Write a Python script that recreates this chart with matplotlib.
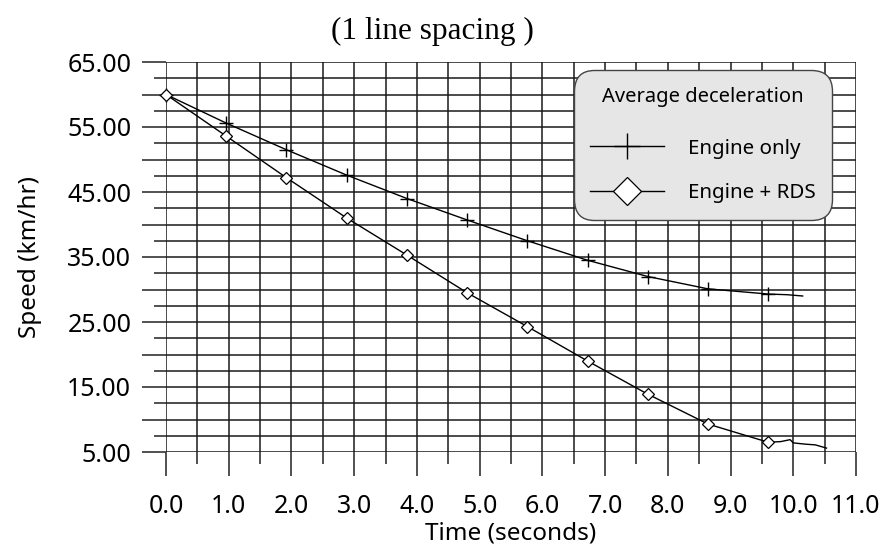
import matplotlib
matplotlib.use("Agg")
import matplotlib.pyplot as plt
from matplotlib.ticker import FixedLocator, FuncFormatter
import numpy as np

# %% data
t_engine = [0.0, 0.96, 1.92, 2.88, 3.84, 4.80, 5.76, 6.72, 7.68, 8.64, 9.60, 9.90, 10.15]
v_engine = [60.0, 55.6, 51.5, 47.6, 44.0, 40.7, 37.5, 34.5, 32.0, 30.1, 29.3, 29.2, 29.0]

t_rds = [0.0, 0.96, 1.92, 2.88, 3.84, 4.80, 5.76, 6.72, 7.68, 8.64, 9.60, 9.80, 9.95, 10.0, 10.2, 10.35, 10.53]
v_rds = [60.0, 53.6, 47.2, 41.0, 35.3, 29.5, 24.3, 19.0, 13.9, 9.3, 6.5, 6.6, 6.9, 6.4, 6.2, 6.1, 5.6]

n_marks = 11  # markers on the first 11 samples
x_ticks = np.arange(0, 11.5, 1.0)
y_labels = [5, 15, 25, 35, 45, 55, 65]

plt.rcParams["font.family"] = ["Noto Sans", "DejaVu Sans"]

fig = plt.figure(figsize=(8.82, 5.49), dpi=100)
ax = fig.add_axes([166 / 882, 1 - 452 / 549, 690 / 882, 390 / 549])

ax.plot(t_engine, v_engine, color="black", lw=1.0, marker="+", markersize=10,
        markeredgewidth=1.0, markevery=list(range(n_marks)), label="Engine only",
        clip_on=False)
ax.plot(t_rds, v_rds, color="black", lw=1.0, marker="D", markersize=6.5,
        markerfacecolor="white", markeredgewidth=0.9, markevery=list(range(n_marks)),
        label="Engine + RDS", clip_on=False)

ax.set_xlim(0, 11)
ax.set_ylim(5, 65)
for s in ax.spines.values():
    s.set_visible(False)

ax.xaxis.set_major_locator(FixedLocator(x_ticks))
ax.xaxis.set_minor_locator(FixedLocator(np.arange(0.5, 11, 1.0)))
ax.xaxis.set_major_formatter(FuncFormatter(lambda v, p: f"{v:.1f}"))
ax.yaxis.set_major_locator(FixedLocator(np.arange(5, 66, 5)))
ax.yaxis.set_minor_locator(FixedLocator(np.arange(7.5, 65, 5)))
ax.yaxis.set_major_formatter(FuncFormatter(
    lambda v, p: f"{v:.2f}" if int(round(v)) in y_labels else ""))

ax.tick_params(which="major", length=17, width=1.2, color="#333333",
               labelsize=18)
ax.tick_params(axis="x", which="major", pad=13)
ax.tick_params(axis="y", which="major", pad=8)
ax.tick_params(which="minor", length=8.5, width=1.2, color="#333333")
ax.grid(True, which="both", color="#1a1a1a", lw=1.1)
ax.set_axisbelow(True)

ax.set_xlabel("Time (seconds)", fontsize=17.5, labelpad=2)
ax.set_ylabel("Speed (km/hr)", fontsize=17.5, labelpad=18)

leg = ax.legend(title="Average deceleration", loc="upper right",
                bbox_to_anchor=(0.965, 0.979), borderaxespad=0,
                fontsize=14.8, title_fontsize=14.5, fancybox=True,
                facecolor="#e6e6e6", edgecolor="#444444", framealpha=1,
                handlelength=3.6, handletextpad=1.15, labelspacing=1.2,
                markerscale=1, borderpad=0.8)
leg.get_frame().set_linewidth(1.0)
leg.get_frame().set_boxstyle("round,pad=0,rounding_size=1.0")
leg._legend_box.sep = 23
leg.legend_handles[0].set_markersize(19)
leg.legend_handles[1].set_markersize(14)

fig.text(432 / 882, 1 - 31 / 549, "(1 line spacing )", ha="center", va="center",
         fontsize=22.5, family=["Liberation Serif", "DejaVu Serif"])

fig.savefig("out.png", dpi=100)
